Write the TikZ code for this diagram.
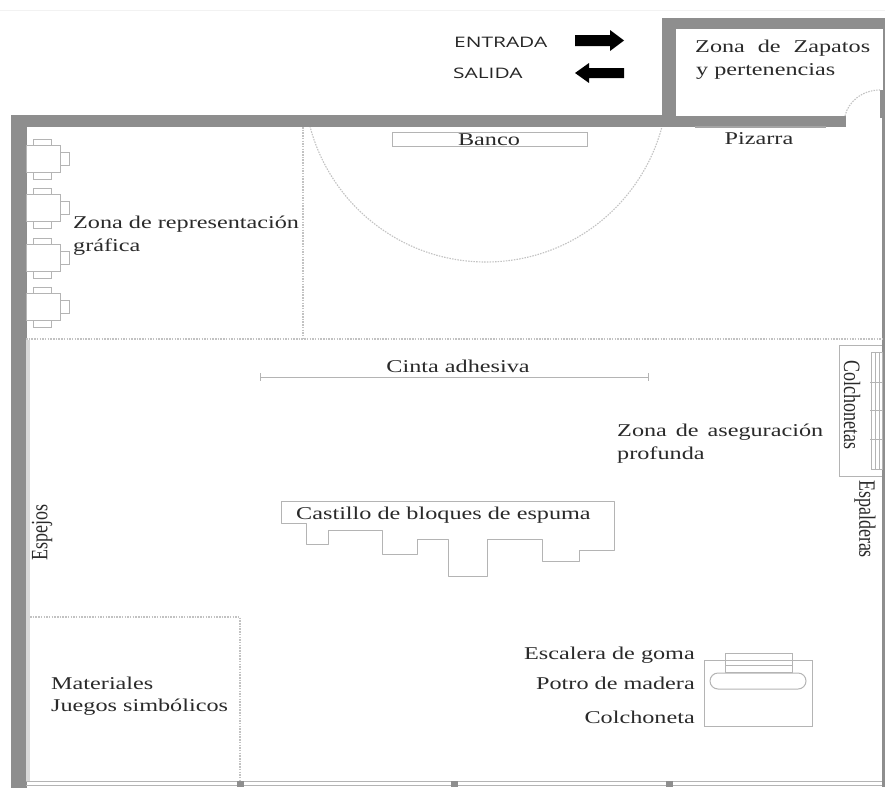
\documentclass[tikz,border=0pt]{standalone}
\usepackage{fontspec}
\setmainfont{Liberation Serif}
\newfontfamily\widetxt[FakeStretch=1.345]{Liberation Serif}
\newfontfamily\labelsans[FakeStretch=1.44]{Open Sans}
\definecolor{wallgray}{HTML}{8E8E8E}
\definecolor{linegray}{HTML}{B4B4B4}
\definecolor{dotgray}{HTML}{C2C2C2}
\definecolor{inkgray}{HTML}{2A2A2A}
\tikzset{
  wall/.style={fill=wallgray,draw=wallgray,line width=0.5pt},
  thin line/.style={draw=linegray,line width=1pt},
  dot line/.style={draw=dotgray,line width=1.1pt,dash pattern=on 1.5pt off 1.2pt},
  lbl/.style={inner sep=0pt,text=inkgray,font=\widetxt\fontsize{18}{20}\selectfont},
  lblw/.style={lbl,anchor=base west},
  lble/.style={lbl,anchor=base east},
  lblc/.style={lbl,anchor=base},
  lblrot/.style={inner sep=0pt,text=inkgray,font=\fontsize{18}{20}\selectfont},
  sanslbl/.style={inner sep=0pt,anchor=base west,text=black!85,font=\labelsans\fontsize{14.5}{16}\selectfont},
  bigarrow/.style={fill=black,draw=none}
}
\begin{document}
\begin{tikzpicture}[x=1pt,y=-1pt]
\useasboundingbox (0,0) rectangle (885,787);
\fill[white] (0,0) rectangle (885,787);
\draw[black!5,line width=1pt] (0,10) -- (885,10);

% walls
\fill[wall] (11,787) -- (11,115) -- (662,115) -- (662,18) -- (885,18) -- (885,28) -- (675,28)
  -- (675,116) -- (845,116) -- (845,126.5) -- (26,126.5) -- (26,787) -- cycle;
\fill[wall] (880,90) rectangle (885,117);
\fill[wallgray] (882.5,28) rectangle (885,90);
\fill[wallgray] (882,117) rectangle (885,787);
\fill[black!15] (26,340) rectangle (30,781);
% bottom window wall
\draw[thin line] (26,781) -- (882,781);
\draw[thin line] (26,785) -- (882,785);
\foreach \px in {240,454,669} \fill[wallgray] (\px-3.5,781) rectangle (\px+3.5,787);

% door arc
\draw[dot line] (845,116) .. controls (848,102) and (862,90) .. (880,90);

% zones
\draw[dot line] (303,127) -- (303,339);
\draw[dot line] (26,339) -- (882,339);
\begin{scope}
  \clip (0,127) rectangle (885,787);
  \draw[dot line] (486,80) circle (182);
\end{scope}
\draw[dot line] (30,617) -- (240,617) -- (240,781);

% tables with chairs
\foreach \ty in {145,194,244,293} {
  \draw[thin line] (26,\ty) rectangle (60,\ty+27);
  \draw[thin line] (33,\ty) -- (33,\ty-6) -- (51,\ty-6) -- (51,\ty);
  \draw[thin line] (33,\ty+27) -- (33,\ty+34) -- (51,\ty+34) -- (51,\ty+27);
  \draw[thin line] (60,\ty+7) -- (69,\ty+7) -- (69,\ty+20) -- (60,\ty+20);
}

% bench, board
\node[thin line,minimum width=195pt,minimum height=14pt,inner sep=0pt,anchor=north west] (banco) at (392,132) {};
\draw[draw=wallgray!80,line width=2pt] (695,127) -- (826,127);

% tape
\coordinate (cintaA) at (260,377);
\coordinate (cintaB) at (648,377);
\draw[thin line] (cintaA) -- (cintaB);
\draw[thin line] (260,373) -- (260,381);
\draw[thin line] (648,373) -- (648,381);

% mats and wall bars
\draw[thin line] (882,345) -- (839,345) -- (839,476) -- (882,476);
\draw[thin line] (871,352) rectangle (882,469);
\draw[thin line] (875,352) -- (875,469);
\draw[thin line] (879,352) -- (879,469);
\foreach \by in {382,410,439} \draw[thin line] (870,\by) -- (882,\by);

% castle
\draw[thin line,line join=round] (281,501) -- (614,501) -- (614,550) -- (579,550) -- (579,561) -- (542,561)
  -- (542,539) -- (487,539) -- (487,576) -- (448,576) -- (448,539) -- (417,539) -- (417,554)
  -- (382,554) -- (382,530) -- (328,530) -- (328,544) -- (306,544) -- (306,523) -- (281,523) -- cycle;

% vaulting horse group
\draw[thin line] (704,660) rectangle (812,726);
\draw[thin line] (725,673) -- (725,653) -- (792,653) -- (792,673);
\draw[thin line] (725,665) -- (792,665);
\draw[thin line] (725,672) -- (792,672);
\draw[thin line,fill=white,rounded corners=8pt] (710,673) rectangle (806,689);

% arrows
\fill[bigarrow] (575,35) -- (610,35) -- (610,30) -- (624,40.5) -- (610,51) -- (610,46) -- (575,46) -- cycle;
\fill[bigarrow] (624,68) -- (589,68) -- (589,63) -- (575,73) -- (589,83) -- (589,78) -- (624,78) -- cycle;

% labels
\node[sanslbl] (entrada) at (454,47) {ENTRADA};
\node[sanslbl] (salida) at (453,78) {SALIDA};
\node[lblw] (zapatos) at (695,52) {\hbox to 175pt{Zona\hfill de\hfill Zapatos}};
\node[lblw] (pertenencias) at (696,75) {y pertenencias};
\node[lblc] (bancotxt) at (489,145) {Banco};
\node[lblc] (pizarra) at (759,144) {Pizarra};
\node[lblw] (repr1) at (73,228) {Zona de representación};
\node[lblw] (repr2) at (73,251) {gráfica};
\node[lblc] (cinta) at (458,372) {Cinta adhesiva};
\node[lblw] (aseg1) at (617,436) {\hbox to 206pt{Zona\hfill de\hfill aseguración}};
\node[lblw] (aseg2) at (617,459) {profunda};
\node[lblw] (castillo) at (296,519) {Castillo de bloques de espuma};
\node[lblrot,rotate=-90] (colch) at (852,405) {\scalebox{1}[1.3]{Colchonetas}};
\node[lblrot,rotate=-90] (espald) at (865,519) {\scalebox{1}[1.3]{Espalderas}};
\node[lblrot,rotate=90] (espejos) at (42,532) {\scalebox{1}[1.3]{Espejos}};
\node[lblw] (mat1) at (51,689) {Materiales};
\node[lblw] (mat2) at (51,711) {Juegos simbólicos};
\node[lble] (esc) at (695,659) {Escalera de goma};
\node[lble] (potro) at (695,689) {Potro de madera};
\node[lble] (colcheta) at (695,723) {Colchoneta};
\end{tikzpicture}
\end{document}
